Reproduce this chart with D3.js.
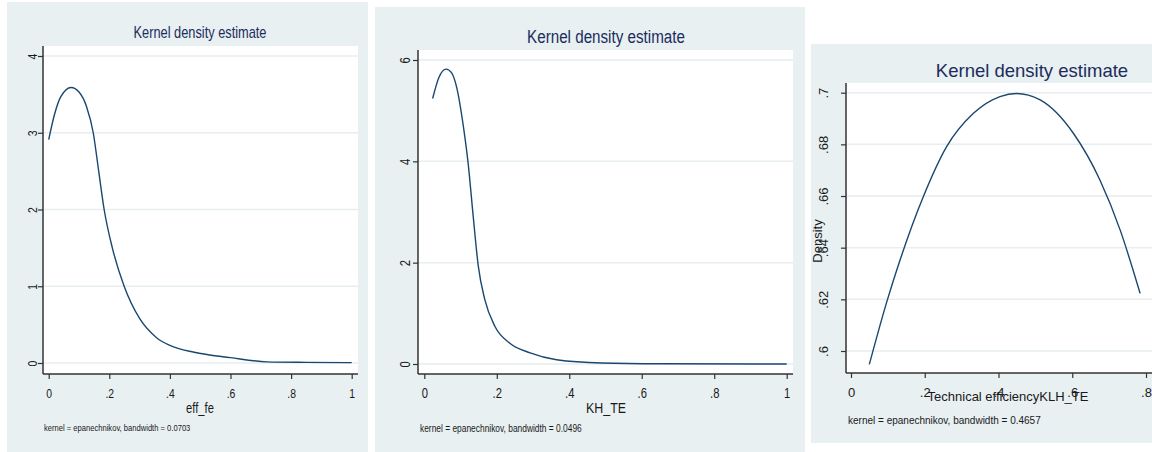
<!DOCTYPE html>
<html>
<head>
<meta charset="utf-8">
<script src="https://d3js.org/d3.v7.min.js"></script>
<style>
  body { margin: 0; background: #fff; }
  svg text { font-family: "Liberation Sans", Arial, sans-serif; }
</style>
</head>
<body>
<svg id="chart" width="1152" height="452"></svg>
<script>
// ---- data ----
var title = "Kernel density estimate";

// panel 1: eff_fe
var effFeX = [0, 0.02, 0.04, 0.074, 0.10, 0.125, 0.147, 0.165, 0.183, 0.21, 0.249, 0.30, 0.356, 0.40, 0.48, 0.60, 0.72, 0.85, 1.0];
var effFeY = [2.91, 3.25, 3.47, 3.59, 3.53, 3.34, 3.0, 2.5, 2.0, 1.5, 1.0, 0.58, 0.33, 0.23, 0.14, 0.07, 0.015, 0.008, 0.005];
var effFeXTicks = [0, 0.2, 0.4, 0.6, 0.8, 1];
var effFeYTicks = [0, 1, 2, 3, 4];
var effFeNote = "kernel = epanechnikov, bandwidth = 0.0703";

// panel 2: KH_TE
var khX = [0.023, 0.04, 0.060, 0.075, 0.089, 0.108, 0.121, 0.135, 0.149, 0.167, 0.195, 0.236, 0.292, 0.365, 0.49, 0.65, 1.0];
var khY = [5.24, 5.65, 5.82, 5.75, 5.47, 4.68, 3.96, 2.91, 1.93, 1.27, 0.74, 0.41, 0.22, 0.085, 0.02, 0.005, 0];
var khXTicks = [0, 0.2, 0.4, 0.6, 0.8, 1];
var khYTicks = [0, 2, 4, 6];
var khNote = "kernel = epanechnikov, bandwidth = 0.0496";

// panel 3: KLH_TE
var klhX = [0.0497, 0.097, 0.133, 0.196, 0.259, 0.332, 0.404, 0.449, 0.513, 0.603, 0.675, 0.73, 0.784];
var klhY = [0.5948, 0.619, 0.6352, 0.6597, 0.679, 0.692, 0.6985, 0.6997, 0.6972, 0.6843, 0.6662, 0.6468, 0.6223];
var klhXTicks = [0, 0.2, 0.4, 0.6, 0.8];
var klhYTicks = [0.6, 0.62, 0.64, 0.66, 0.68, 0.7];
var klhNote = "kernel = epanechnikov, bandwidth = 0.4657";

// stata style labels: 0.2 -> ".2"
function stataFmt(v) {
  var s = String(+v.toFixed(4));
  return s.replace(/^0\./, ".");
}

var bgCol = "#e8f0f2", gridCol = "#e6eef0", lineCol = "#1a476f", titleCol = "#1c2c5c", txtCol = "#1a1a1a";

var panels = [
  { xs: effFeX, ys: effFeY, xt: effFeXTicks, yt: effFeYTicks, note: effFeNote, xlab: "eff_fe", ylab: null,
    sx: 0.8, bg: [7, 2, 368, 452], plot: [43, 46, 358, 374],
    xDom: [0, 1], xRange: [48.7, 351.7], yDom: [0, 4], yRange: [363, 56],
    titleY: 38, titleX: 200, titleSize: 16, tickSize: 13, xlabSize: 14, xlabX: 200, xlabY: 413, noteSize: 9.5, noteX: 44, noteY: 431, yLabX: 32 },
  { xs: khX, ys: khY, xt: khXTicks, yt: khYTicks, note: khNote, xlab: "KH_TE", ylab: null,
    sx: 0.8, bg: [375, 7, 805, 452], plot: [418, 50, 793, 374],
    xDom: [0, 1], xRange: [424.3, 786.7], yDom: [0, 6], yRange: [364, 60],
    titleY: 43, titleX: 606, titleSize: 19, tickSize: 14, xlabSize: 15.5, xlabX: 606, xlabY: 413, noteSize: 10.5, noteX: 420, noteY: 432, yLabX: 405 },
  { xs: klhX, ys: klhY, xt: klhXTicks, yt: klhYTicks, note: klhNote, xlab: "Technical efficiencyKLH_TE", ylab: "Density",
    sx: 1, bg: [811, 44, 1152, 443], plot: [846, 83, 1160, 373],
    xDom: [0, 0.8], xRange: [851, 1146], yDom: [0.6, 0.7], yRange: [351, 92.7],
    titleY: 77, titleX: 1032, titleSize: 18.5, tickSize: 13, xlabSize: 13, xlabX: 1008, xlabY: 401, noteSize: 10, noteX: 848, noteY: 424, yLabX: 823 }
];

var svg = d3.select("#chart");

// text placed at (x,y) and squeezed horizontally for the condensed panels
function putText(g, x, y, sx, str, size, col, anchor) {
  return g.append("text")
    .attr("transform", "translate(" + x + "," + y + ") scale(" + sx + ",1)")
    .attr("text-anchor", anchor || "start")
    .attr("fill", col).style("font-size", size + "px").text(str);
}

panels.forEach(function(p) {
  var g = svg.append("g");
  var x = d3.scaleLinear().domain(p.xDom).range(p.xRange);
  var y = d3.scaleLinear().domain(p.yDom).range(p.yRange);

  // graph region + plot region
  g.append("rect").attr("x", p.bg[0]).attr("y", p.bg[1])
    .attr("width", p.bg[2] - p.bg[0]).attr("height", p.bg[3] - p.bg[1]).attr("fill", bgCol);
  g.append("rect").attr("x", p.plot[0]).attr("y", p.plot[1])
    .attr("width", p.plot[2] - p.plot[0]).attr("height", p.plot[3] - p.plot[1]).attr("fill", "#fff");

  // horizontal grid
  g.selectAll("line.grid").data(p.yt).enter().append("line")
    .attr("class", "grid")
    .attr("x1", p.plot[0]).attr("x2", p.plot[2])
    .attr("y1", function(d) { return y(d); }).attr("y2", function(d) { return y(d); })
    .attr("stroke", gridCol).attr("stroke-width", 1.5);

  // y axis
  var yAxis = d3.axisLeft(y).tickValues(p.yt).tickSize(5).tickSizeOuter(0).tickFormat(stataFmt);
  var ya = g.append("g").attr("transform", "translate(" + p.plot[0] + ",0)").call(yAxis)
    .attr("font-family", null).attr("font-size", null);
  ya.select(".domain").attr("d", "M0," + p.plot[1] + "V" + p.plot[3]);
  ya.selectAll(".tick line").attr("stroke", "#333").attr("stroke-width", 1.2);
  ya.selectAll(".tick text")
    .attr("x", null)
    .attr("transform", "translate(" + (p.yLabX - p.plot[0]) + ",0) rotate(-90) scale(" + p.sx + ",1)")
    .attr("text-anchor", "middle").attr("dy", "0.35em")
    .attr("fill", txtCol).style("font-size", p.tickSize + "px");

  // x axis
  var xAxis = d3.axisBottom(x).tickValues(p.xt).tickSize(5).tickSizeOuter(0).tickFormat(stataFmt);
  var xa = g.append("g").attr("transform", "translate(0," + p.plot[3] + ")").call(xAxis)
    .attr("font-family", null).attr("font-size", null);
  xa.select(".domain").attr("d", "M" + p.plot[0] + ",0H" + p.plot[2]);
  xa.selectAll(".tick line").attr("stroke", "#333").attr("stroke-width", 1.2);
  xa.selectAll(".tick text").attr("y", null).attr("dy", null)
    .attr("transform", "translate(0,24) scale(" + p.sx + ",1)")
    .attr("fill", txtCol).style("font-size", p.tickSize + "px");
  g.selectAll(".domain").attr("stroke", "#333").attr("stroke-width", 1.5);

  // density curve
  var pts = p.xs.map(function(v, i) { return [v, p.ys[i]]; });
  g.append("path").datum(pts)
    .attr("d", d3.line().x(function(d) { return x(d[0]); }).y(function(d) { return y(d[1]); }).curve(d3.curveMonotoneX))
    .attr("fill", "none").attr("stroke", lineCol).attr("stroke-width", 1.4);

  // texts
  putText(g, p.titleX, p.titleY, p.sx, title, p.titleSize, titleCol, "middle");
  putText(g, p.xlabX, p.xlabY, p.sx, p.xlab, p.xlabSize, txtCol, "middle");
  putText(g, p.noteX, p.noteY, p.sx, p.note, p.noteSize, txtCol, "start");
  if (p.ylab) {
    g.append("text").attr("transform", "translate(817,241) rotate(-90)")
      .attr("text-anchor", "middle").attr("dy", "0.35em")
      .attr("fill", txtCol).style("font-size", "13px").text(p.ylab);
  }
});
</script>
</body>
</html>
